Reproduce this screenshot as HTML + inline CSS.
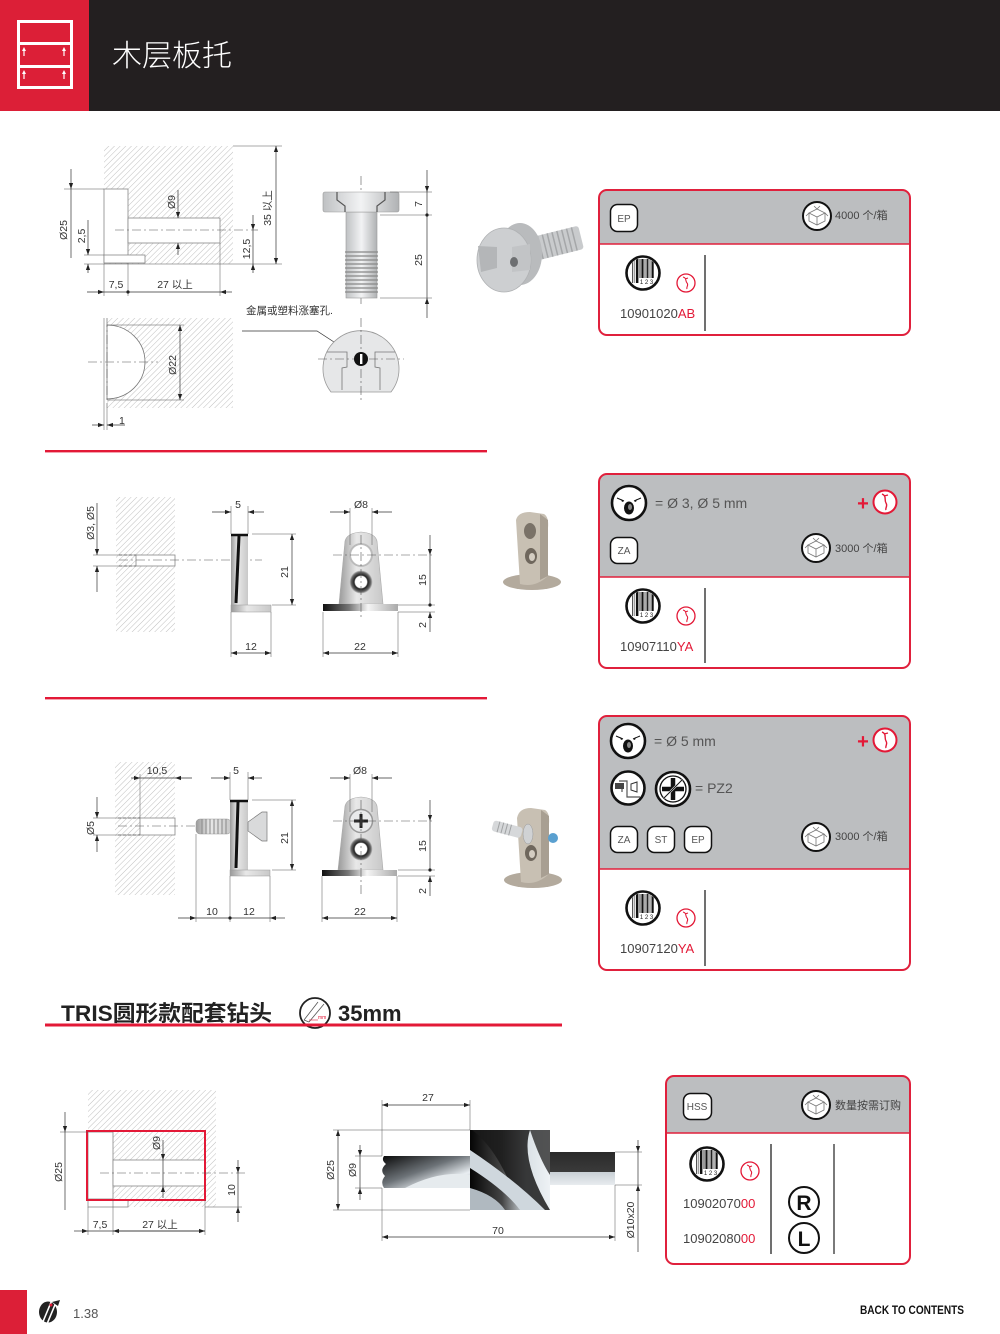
<!DOCTYPE html>
<html><head><meta charset="utf-8">
<style>
html,body{margin:0;padding:0;background:#fff;}
svg{display:block;}
text{font-family:"Liberation Sans","Noto Sans CJK SC",sans-serif;}
.d{font-size:10.5px;fill:#333;}
.dl{stroke:#333;stroke-width:0.7;fill:none;}
.ex{stroke:#555;stroke-width:0.5;fill:none;}
.cl{stroke:#555;stroke-width:0.6;stroke-dasharray:9 3 2 3;fill:none;}
.ed{stroke:#888;stroke-width:0.8;}
</style></head><body>
<svg width="1000" height="1334" viewBox="0 0 1000 1334" xmlns="http://www.w3.org/2000/svg">
<defs>
<pattern id="h" patternUnits="userSpaceOnUse" width="4" height="4" patternTransform="rotate(45)">
<line x1="0" y1="0" x2="0" y2="4" stroke="#b0b0b0" stroke-width="0.8"/>
</pattern>
<marker id="a" viewBox="0 0 10 10" refX="10" refY="5" markerWidth="6" markerHeight="6" orient="auto-start-reverse" markerUnits="userSpaceOnUse"><path d="M0,1.5 L10,5 L0,8.5z" fill="#222"/></marker>
<linearGradient id="gm" x1="0" y1="0" x2="1" y2="0"><stop offset="0" stop-color="#bfc1c3"/><stop offset="0.5" stop-color="#f2f3f4"/><stop offset="1" stop-color="#b0b2b4"/></linearGradient>
<linearGradient id="gb" x1="0" y1="0" x2="1" y2="0"><stop offset="0" stop-color="#111"/><stop offset="0.35" stop-color="#777"/><stop offset="0.6" stop-color="#f5f5f5"/><stop offset="1" stop-color="#aaa"/></linearGradient>
<linearGradient id="gp" x1="0" y1="0" x2="1" y2="0"><stop offset="0" stop-color="#9a9a9a"/><stop offset="0.4" stop-color="#e8e8e8"/><stop offset="1" stop-color="#c8c8c8"/></linearGradient>
<linearGradient id="gd1" x1="0" y1="0" x2="1" y2="1"><stop offset="0" stop-color="#0a0a0a"/><stop offset="0.45" stop-color="#6d7378"/><stop offset="0.75" stop-color="#e9eef2"/><stop offset="1" stop-color="#9aa3aa"/></linearGradient>
<linearGradient id="gd2" x1="0" y1="0" x2="1" y2="0"><stop offset="0" stop-color="#050505"/><stop offset="0.4" stop-color="#444"/><stop offset="0.7" stop-color="#d9e0e5"/><stop offset="1" stop-color="#eef2f5"/></linearGradient>
<linearGradient id="gsh" x1="0" y1="0" x2="0" y2="1"><stop offset="0" stop-color="#2a2a2a"/><stop offset="0.6" stop-color="#3a3a3a"/><stop offset="0.61" stop-color="#c9d0d5"/><stop offset="1" stop-color="#e8ecef"/></linearGradient>
<radialGradient id="gr" cx="0.5" cy="0.5" r="0.5"><stop offset="0.5" stop-color="#fff"/><stop offset="0.6" stop-color="#222"/><stop offset="0.85" stop-color="#666"/><stop offset="1" stop-color="#ccc"/></radialGradient>
<clipPath id="bcc"><circle r="15"/></clipPath>
<g id="bc">
<circle r="16.5" fill="#fff" stroke="#111" stroke-width="2.6"/>
<g clip-path="url(#bcc)">
<rect x="-11" y="-14" width="1.2" height="24" fill="#555"/>
<rect x="-8.8" y="-14" width="1" height="24" fill="#888"/>
<rect x="-7" y="-14" width="2.4" height="24" fill="#111"/>
<rect x="-3.5" y="-14" width="1" height="19" fill="#333"/>
<rect x="-1.6" y="-14" width="2.2" height="19" fill="#111"/>
<rect x="1.5" y="-14" width="1" height="19" fill="#555"/>
<rect x="3.5" y="-14" width="2" height="19" fill="#222"/>
<rect x="6.5" y="-14" width="1" height="19" fill="#666"/>
<rect x="8.5" y="-14" width="2.2" height="19" fill="#111"/>
</g>
<text x="3.5" y="11" font-size="6" text-anchor="middle" fill="#222">1 2 3</text>
</g>
<g id="rf">
<circle r="9" fill="#fff" stroke="#e31937" stroke-width="1.3"/>
<path d="M-3,-6 C1,-5 -1,-2 1,0 C3,2 0,4 1,6 M-1,-4 L2,-5" stroke="#e31937" stroke-width="1.1" fill="none"/>
</g>
<g id="bx">
<circle r="14" fill="#fff" stroke="#111" stroke-width="2"/>
<path d="M-8,-3 L0,-7 L8,-3 L0,1 Z M-8,-3 L-8,5 L0,9 L8,5 L8,-3 M0,1 L0,9 M-8,-3 L-11,0 M8,-3 L11,0 M0,-7 L-3,-10 M0,-7 L3,-10" stroke="#777" stroke-width="0.8" fill="none"/>
</g>
<g id="ho">
<circle r="17" fill="#fff" stroke="#111" stroke-width="2.6"/>
<ellipse cx="0" cy="5" rx="5" ry="6.5" fill="#111"/>
<ellipse cx="1" cy="4" rx="2" ry="3" fill="#888"/>
<path d="M-12,-5 L-5,-2 M12,-5 L5,-2" stroke="#111" stroke-width="1"/>
<path d="M-5,-2 L-8,-4 L-7,-1z M5,-2 L8,-4 L7,-1z" fill="#111"/>
</g>
<g id="rp">
<circle r="11.5" fill="#fff" stroke="#e31937" stroke-width="2"/>
<path d="M-3,-8 C2,-6 -1,-2 1,1 C3,4 0,6 1,8 M-1,-6 L3,-7" stroke="#e31937" stroke-width="1.4" fill="none"/>
</g>
</defs>

<!-- HEADER -->
<rect x="0" y="0" width="1000" height="111" fill="#231f20"/>
<rect x="0" y="0" width="89" height="111" fill="#dc1f37"/>
<rect x="18.5" y="21.5" width="53" height="66" fill="none" stroke="#fff" stroke-width="3"/>
<line x1="18" y1="43.5" x2="72" y2="43.5" stroke="#fff" stroke-width="3"/>
<line x1="18" y1="66.5" x2="72" y2="66.5" stroke="#fff" stroke-width="3"/>
<g fill="#fff">
<path d="M24,47 L22,51 L23.4,51 L23.4,56 L24.6,56 L24.6,51 L26,51z"/>
<path d="M64,47 L62,51 L63.4,51 L63.4,56 L64.6,56 L64.6,51 L66,51z"/>
<path d="M24,70 L22,74 L23.4,74 L23.4,79 L24.6,79 L24.6,74 L26,74z"/>
<path d="M64,70 L62,74 L63.4,74 L63.4,79 L64.6,79 L64.6,74 L66,74z"/>
</g>
<text x="112" y="66" font-size="30" fill="#fff" style="font-family:'Liberation Sans','Noto Sans CJK SC',sans-serif;font-weight:300">木层板托</text>

<!-- SECTION 1 DRAWINGS -->
<rect x="104" y="146" width="129" height="118" fill="url(#h)"/>
<rect x="104" y="189" width="24" height="74" fill="#fff" class="ed"/>
<rect x="128" y="218" width="92" height="25" fill="#fff" class="ed"/>
<rect x="104" y="255" width="41" height="8" fill="#fff" class="ed"/>
<line x1="115" y1="230" x2="258" y2="230" class="cl"/>
<line x1="64" y1="189" x2="104" y2="189" class="ex"/>
<line x1="84" y1="255" x2="104" y2="255" class="ex"/>
<line x1="84" y1="264" x2="282" y2="264" class="ex"/>
<line x1="233" y1="146" x2="282" y2="146" class="ex"/>
<line x1="71" y1="169" x2="71" y2="189" class="dl" marker-end="url(#a)"/>
<line x1="71" y1="189" x2="71" y2="258" class="dl"/>
<text class="d" transform="translate(67,230) rotate(-90)" text-anchor="middle">Ø25</text>
<line x1="88" y1="220" x2="88" y2="255" class="dl" marker-end="url(#a)"/>
<line x1="88" y1="273" x2="88" y2="264" class="dl" marker-end="url(#a)"/>
<text class="d" transform="translate(85,236) rotate(-90)" text-anchor="middle">2,5</text>
<line x1="178" y1="190" x2="178" y2="218" class="dl" marker-end="url(#a)"/>
<line x1="178" y1="255" x2="178" y2="243" class="dl" marker-end="url(#a)"/>
<text class="d" transform="translate(175,202) rotate(-90)" text-anchor="middle">Ø9</text>
<line x1="253" y1="215" x2="253" y2="230" class="dl" marker-end="url(#a)"/>
<line x1="253" y1="273" x2="253" y2="264" class="dl" marker-end="url(#a)"/>
<line x1="253" y1="230" x2="253" y2="264" class="dl"/>
<text class="d" transform="translate(250,249) rotate(-90)" text-anchor="middle">12,5</text>
<line x1="276" y1="146" x2="276" y2="264" class="dl" marker-start="url(#a)" marker-end="url(#a)"/>
<text class="d" transform="translate(271,208) rotate(-90)" text-anchor="middle">35 以上</text>
<line x1="104" y1="264" x2="104" y2="296" class="ex"/>
<line x1="128" y1="263" x2="128" y2="296" class="ex"/>
<line x1="220" y1="243" x2="220" y2="296" class="ex"/>
<line x1="87" y1="292" x2="104" y2="292" class="dl" marker-end="url(#a)"/>
<line x1="104" y1="292" x2="220" y2="292" class="dl"/>
<line x1="232" y1="292" x2="220" y2="292" class="dl" marker-end="url(#a)"/>
<circle cx="128" cy="292" r="1.6" fill="#222"/>
<text class="d" x="116" y="288" text-anchor="middle">7,5</text>
<text class="d" x="175" y="288" text-anchor="middle">27 以上</text>

<!-- screw side -->
<line x1="361" y1="176" x2="361" y2="306" class="cl"/>
<rect x="346" y="212" width="31" height="86" fill="url(#gm)" stroke="#999" stroke-width="0.6"/>
<g stroke="#888" stroke-width="1.2">
<line x1="345" y1="252" x2="378" y2="252"/><line x1="345" y1="256" x2="378" y2="256"/><line x1="345" y1="260" x2="378" y2="260"/><line x1="345" y1="264" x2="378" y2="264"/><line x1="345" y1="268" x2="378" y2="268"/><line x1="345" y1="272" x2="378" y2="272"/><line x1="345" y1="276" x2="378" y2="276"/><line x1="345" y1="280" x2="378" y2="280"/><line x1="345" y1="284" x2="378" y2="284"/><line x1="345" y1="288" x2="378" y2="288"/><line x1="345" y1="292" x2="378" y2="292"/>
</g>
<rect x="323" y="192" width="76" height="20" rx="2" fill="url(#gm)" stroke="#999" stroke-width="0.6"/>
<path d="M337,192 L337,200 L345,206 L345,212 M385,192 L385,200 L377,206 L377,212" stroke="#555" stroke-width="1.2" fill="none"/>
<line x1="390" y1="192" x2="432" y2="192" class="ex"/>
<line x1="380" y1="215" x2="432" y2="215" class="ex"/>
<line x1="380" y1="298" x2="432" y2="298" class="ex"/>
<line x1="427" y1="170" x2="427" y2="192" class="dl" marker-end="url(#a)"/>
<line x1="427" y1="192" x2="427" y2="298" class="dl"/>
<line x1="427" y1="318" x2="427" y2="298" class="dl" marker-end="url(#a)"/>
<circle cx="427" cy="215" r="1.6" fill="#222"/>
<text class="d" transform="translate(422,204) rotate(-90)" text-anchor="middle">7</text>
<text class="d" transform="translate(422,260) rotate(-90)" text-anchor="middle">25</text>

<text x="246" y="314" font-size="10.5" fill="#333">金属或塑料涨塞孔.</text>
<polyline points="242,331 317,331 354,355" class="dl" marker-end="url(#a)"/>
<!-- cam front -->
<path d="M331,392 A38,38 0 1 1 391,392 Z" fill="#e6e7e8" stroke="#999" stroke-width="0.8"/>
<path d="M327,352 L347,352 L347,367 L342,368 L342,390 M395,352 L375,352 L375,367 L380,368 L380,390" stroke="#777" stroke-width="0.8" fill="none"/>
<line x1="318" y1="359" x2="404" y2="359" class="cl"/>
<line x1="361" y1="318" x2="361" y2="402" class="cl"/>
<circle cx="361" cy="359" r="7" fill="#111"/>
<rect x="360" y="354" width="2.4" height="10" fill="#fff"/>

<!-- lower-left -->
<rect x="104" y="318" width="129" height="90" fill="url(#h)"/>
<rect x="104" y="318" width="3" height="90" fill="#fff"/>
<path d="M107,325 A38,37 0 0 1 107,399 Z" fill="#fff" stroke="#777" stroke-width="0.8"/>
<line x1="107" y1="318" x2="107" y2="408" class="cl"/>
<line x1="104" y1="318" x2="104" y2="430" class="ex"/>
<line x1="107" y1="408" x2="107" y2="430" class="ex"/>
<line x1="107" y1="325" x2="184" y2="325" class="ex"/>
<line x1="107" y1="400" x2="184" y2="400" class="ex"/>
<line x1="180" y1="325" x2="180" y2="400" class="dl" marker-start="url(#a)" marker-end="url(#a)"/>
<text class="d" transform="translate(176,365) rotate(-90)" text-anchor="middle">Ø22</text>
<line x1="88" y1="362" x2="158" y2="362" class="cl"/>
<line x1="92" y1="425" x2="104" y2="425" class="dl" marker-end="url(#a)"/>
<line x1="125" y1="425" x2="107" y2="425" class="dl" marker-end="url(#a)"/>
<text class="d" x="119" y="424">1</text>

<!-- product photo 1 -->
<g transform="rotate(-14 550 245)">
<rect x="522" y="233" width="60" height="24" rx="3" fill="#c9cbcd"/>
<g stroke="#a5a7a9" stroke-width="1.5"><line x1="540" y1="233" x2="540" y2="257"/><line x1="545" y1="233" x2="545" y2="257"/><line x1="550" y1="233" x2="550" y2="257"/><line x1="555" y1="233" x2="555" y2="257"/><line x1="560" y1="233" x2="560" y2="257"/><line x1="565" y1="233" x2="565" y2="257"/><line x1="570" y1="233" x2="570" y2="257"/><line x1="575" y1="233" x2="575" y2="257"/></g>
</g>
<ellipse cx="520" cy="254" rx="22" ry="31" fill="#b9bbbd"/>
<ellipse cx="504" cy="260" rx="27" ry="32" fill="#cdcfd1" stroke="#b0b2b4" stroke-width="0.8"/>
<path d="M478,246 L497,247 L497,268 L481,272" fill="#b4b6b8"/>
<path d="M512,247 L530,244 L530,270 L512,272z" fill="#c2c4c6"/>
<ellipse cx="514" cy="262" rx="4" ry="5" fill="#6d6f71"/>

<rect x="45" y="450" width="442" height="2.4" fill="#e31937"/>

<!-- SECTION 2 -->
<rect x="116" y="497" width="59" height="135" fill="url(#h)"/>
<rect x="136" y="555" width="39" height="11" fill="#fff" class="ed"/>
<path d="M119,555 L136,555 M119,566 L136,566" stroke="#666" stroke-width="0.7" stroke-dasharray="3 2"/>
<line x1="119" y1="560" x2="262" y2="560" class="cl"/>
<line x1="93" y1="555" x2="136" y2="555" class="ex"/>
<line x1="93" y1="566" x2="136" y2="566" class="ex"/>
<line x1="97" y1="503" x2="97" y2="555" class="dl" marker-end="url(#a)"/>
<line x1="97" y1="592" x2="97" y2="566" class="dl" marker-end="url(#a)"/>
<text class="d" transform="translate(94,523) rotate(-90)" text-anchor="middle">Ø3, Ø5</text>

<rect x="231" y="534" width="17" height="71" fill="url(#gp)"/>
<line x1="231" y1="535" x2="248" y2="535" stroke="#111" stroke-width="2.5"/>
<line x1="239" y1="536" x2="236" y2="603" stroke="#111" stroke-width="3"/>
<rect x="231" y="605" width="40" height="7" fill="url(#gp)" stroke="#999" stroke-width="0.5"/>
<line x1="231" y1="506" x2="231" y2="534" class="ex"/>
<line x1="248" y1="506" x2="248" y2="534" class="ex"/>
<line x1="212" y1="512" x2="231" y2="512" class="dl" marker-end="url(#a)"/>
<line x1="264" y1="512" x2="248" y2="512" class="dl" marker-end="url(#a)"/>
<text class="d" x="238" y="508" text-anchor="middle">5</text>
<line x1="252" y1="534" x2="296" y2="534" class="ex"/>
<line x1="272" y1="605" x2="296" y2="605" class="ex"/>
<line x1="292" y1="534" x2="292" y2="605" class="dl" marker-start="url(#a)" marker-end="url(#a)"/>
<text class="d" transform="translate(288,572) rotate(-90)" text-anchor="middle">21</text>
<line x1="231" y1="612" x2="231" y2="657" class="ex"/>
<line x1="271" y1="612" x2="271" y2="657" class="ex"/>
<line x1="231" y1="653" x2="271" y2="653" class="dl" marker-start="url(#a)" marker-end="url(#a)"/>
<text class="d" x="251" y="650" text-anchor="middle">12</text>

<path d="M339,604 L345,541 Q347,533 361,532 Q375,533 377,541 L383,604 Z" fill="url(#gp)" stroke="#aaa" stroke-width="0.6"/>
<circle cx="361" cy="555" r="11" fill="#fff" stroke="#bbb" stroke-width="2"/>
<circle cx="361" cy="582" r="11.5" fill="url(#gr)"/>
<rect x="323" y="604" width="75" height="7" fill="url(#gb)"/>
<line x1="361" y1="535" x2="361" y2="620" class="cl"/>
<line x1="333" y1="555" x2="435" y2="555" class="cl"/>
<line x1="350" y1="508" x2="350" y2="545" class="ex"/>
<line x1="372" y1="508" x2="372" y2="545" class="ex"/>
<line x1="330" y1="512" x2="350" y2="512" class="dl" marker-end="url(#a)"/>
<line x1="392" y1="512" x2="372" y2="512" class="dl" marker-end="url(#a)"/>
<text class="d" x="361" y="508" text-anchor="middle">Ø8</text>
<line x1="398" y1="605" x2="435" y2="605" class="ex"/>
<line x1="398" y1="612" x2="435" y2="612" class="ex"/>
<line x1="430" y1="535" x2="430" y2="555" class="dl" marker-end="url(#a)"/>
<line x1="430" y1="555" x2="430" y2="605" class="dl"/>
<line x1="430" y1="632" x2="430" y2="612" class="dl" marker-end="url(#a)"/>
<circle cx="430" cy="605" r="1.6" fill="#222"/>
<text class="d" transform="translate(426,580) rotate(-90)" text-anchor="middle">15</text>
<text class="d" transform="translate(426,625) rotate(-90)" text-anchor="middle">2</text>
<line x1="323" y1="612" x2="323" y2="657" class="ex"/>
<line x1="398" y1="612" x2="398" y2="657" class="ex"/>
<line x1="323" y1="653" x2="398" y2="653" class="dl" marker-start="url(#a)" marker-end="url(#a)"/>
<text class="d" x="360" y="650" text-anchor="middle">22</text>

<!-- product photo 2 -->
<ellipse cx="532" cy="582" rx="29" ry="8" fill="#b3aa9d"/>
<path d="M516,520 Q518,512 530,512 L544,514 Q549,517 548,528 L548,576 Q535,588 520,584 Z" fill="#c8c0b3"/>
<path d="M540,514 L548,520 L548,576 L540,580z" fill="#a89f92"/>
<ellipse cx="530" cy="531" rx="6" ry="8" fill="#7a7268"/>
<ellipse cx="531" cy="556" rx="6" ry="8" fill="#6f675d"/>
<ellipse cx="532" cy="557" rx="3" ry="4" fill="#d4cdc2"/>

<rect x="45" y="697" width="442" height="2.4" fill="#e31937"/>

<!-- SECTION 3 -->
<rect x="115" y="762" width="60" height="133" fill="url(#h)"/>
<rect x="140" y="818" width="35" height="17" fill="#fff" class="ed"/>
<path d="M118,818 L140,818 M118,835 L140,835" stroke="#666" stroke-width="0.7" stroke-dasharray="3 2"/>
<line x1="118" y1="826" x2="262" y2="826" class="cl"/>
<line x1="140" y1="774" x2="140" y2="818" class="ex"/>
<line x1="131" y1="778" x2="140" y2="778" class="dl" marker-end="url(#a)"/>
<line x1="192" y1="778" x2="175" y2="778" class="dl" marker-end="url(#a)"/>
<line x1="140" y1="778" x2="175" y2="778" class="dl"/>
<text class="d" x="157" y="774" text-anchor="middle">10,5</text>
<line x1="93" y1="818" x2="140" y2="818" class="ex"/>
<line x1="93" y1="835" x2="140" y2="835" class="ex"/>
<line x1="97" y1="797" x2="97" y2="818" class="dl" marker-end="url(#a)"/>
<line x1="97" y1="852" x2="97" y2="835" class="dl" marker-end="url(#a)"/>
<text class="d" transform="translate(94,828) rotate(-90)" text-anchor="middle">Ø5</text>

<rect x="196" y="819" width="35" height="15" rx="4" fill="url(#gp)" stroke="#999" stroke-width="0.5"/>
<g stroke="#888" stroke-width="1"><line x1="202" y1="819" x2="202" y2="834"/><line x1="206" y1="819" x2="206" y2="834"/><line x1="210" y1="819" x2="210" y2="834"/><line x1="214" y1="819" x2="214" y2="834"/><line x1="218" y1="819" x2="218" y2="834"/><line x1="222" y1="819" x2="222" y2="834"/><line x1="226" y1="819" x2="226" y2="834"/></g>
<rect x="230" y="800" width="18" height="70" fill="url(#gp)"/>
<line x1="230" y1="801" x2="248" y2="801" stroke="#111" stroke-width="2.5"/>
<line x1="238" y1="802" x2="236" y2="868" stroke="#111" stroke-width="3"/>
<path d="M248,822 L262,812 L267,812 L267,841 L262,841 L248,831 Z" fill="#d9dadb" stroke="#777" stroke-width="0.7"/>
<rect x="230" y="870" width="40" height="6" fill="url(#gp)" stroke="#999" stroke-width="0.5"/>
<line x1="230" y1="772" x2="230" y2="800" class="ex"/>
<line x1="248" y1="772" x2="248" y2="800" class="ex"/>
<line x1="211" y1="778" x2="230" y2="778" class="dl" marker-end="url(#a)"/>
<line x1="262" y1="778" x2="248" y2="778" class="dl" marker-end="url(#a)"/>
<text class="d" x="236" y="774" text-anchor="middle">5</text>
<line x1="252" y1="800" x2="296" y2="800" class="ex"/>
<line x1="272" y1="870" x2="296" y2="870" class="ex"/>
<line x1="292" y1="800" x2="292" y2="870" class="dl" marker-start="url(#a)" marker-end="url(#a)"/>
<text class="d" transform="translate(288,838) rotate(-90)" text-anchor="middle">21</text>
<line x1="196" y1="834" x2="196" y2="922" class="ex"/>
<line x1="230" y1="876" x2="230" y2="922" class="ex"/>
<line x1="270" y1="876" x2="270" y2="922" class="ex"/>
<line x1="178" y1="918" x2="196" y2="918" class="dl" marker-end="url(#a)"/>
<line x1="196" y1="918" x2="270" y2="918" class="dl"/>
<line x1="285" y1="918" x2="270" y2="918" class="dl" marker-end="url(#a)"/>
<circle cx="230" cy="918" r="1.6" fill="#222"/>
<text class="d" x="212" y="915" text-anchor="middle">10</text>
<text class="d" x="249" y="915" text-anchor="middle">12</text>

<path d="M338,870 L345,806 Q347,798 361,797 Q375,798 377,806 L383,870 Z" fill="url(#gp)" stroke="#aaa" stroke-width="0.6"/>
<circle cx="361" cy="821" r="11.5" fill="#e9eaeb" stroke="#999" stroke-width="1.5"/>
<path d="M354,821 L368,821 M361,814 L361,828" stroke="#222" stroke-width="3"/>
<circle cx="361" cy="849" r="11.5" fill="url(#gr)"/>
<rect x="322" y="870" width="75" height="6" fill="url(#gb)"/>
<line x1="361" y1="800" x2="361" y2="895" class="cl"/>
<line x1="333" y1="821" x2="435" y2="821" class="cl"/>
<line x1="350" y1="774" x2="350" y2="812" class="ex"/>
<line x1="372" y1="774" x2="372" y2="812" class="ex"/>
<line x1="330" y1="778" x2="350" y2="778" class="dl" marker-end="url(#a)"/>
<line x1="392" y1="778" x2="372" y2="778" class="dl" marker-end="url(#a)"/>
<text class="d" x="360" y="774" text-anchor="middle">Ø8</text>
<line x1="398" y1="870" x2="435" y2="870" class="ex"/>
<line x1="398" y1="876" x2="435" y2="876" class="ex"/>
<line x1="430" y1="800" x2="430" y2="821" class="dl" marker-end="url(#a)"/>
<line x1="430" y1="821" x2="430" y2="870" class="dl"/>
<line x1="430" y1="896" x2="430" y2="876" class="dl" marker-end="url(#a)"/>
<circle cx="430" cy="870" r="1.6" fill="#222"/>
<text class="d" transform="translate(426,846) rotate(-90)" text-anchor="middle">15</text>
<text class="d" transform="translate(426,891) rotate(-90)" text-anchor="middle">2</text>
<line x1="322" y1="876" x2="322" y2="922" class="ex"/>
<line x1="397" y1="876" x2="397" y2="922" class="ex"/>
<line x1="322" y1="918" x2="397" y2="918" class="dl" marker-start="url(#a)" marker-end="url(#a)"/>
<text class="d" x="360" y="915" text-anchor="middle">22</text>

<!-- product photo 3 -->
<ellipse cx="533" cy="880" rx="29" ry="8" fill="#b3aa9d"/>
<path d="M517,818 Q519,808 531,808 L545,810 Q550,813 549,824 L549,874 Q536,886 521,882 Z" fill="#c8c0b3"/>
<path d="M541,810 L549,816 L549,874 L541,878z" fill="#a89f92"/>
<ellipse cx="531" cy="853" rx="6" ry="8" fill="#6f675d"/>
<ellipse cx="532" cy="854" rx="3" ry="4" fill="#d4cdc2"/>
<g transform="rotate(15 508 830)">
<rect x="492" y="824" width="30" height="11" rx="3" fill="#d6d8da"/>
<g stroke="#a0a2a4" stroke-width="1"><line x1="498" y1="824" x2="498" y2="835"/><line x1="502" y1="824" x2="502" y2="835"/><line x1="506" y1="824" x2="506" y2="835"/><line x1="510" y1="824" x2="510" y2="835"/></g>
</g>
<ellipse cx="528" cy="834" rx="5" ry="10" fill="#d0d2d4" stroke="#999" stroke-width="0.5"/>
<circle cx="553" cy="838" r="5" fill="#5aa0d0"/>

<!-- BOX 1 -->
<path d="M607,190 L902,190 Q910,190 910,198 L910,244 L599,244 L599,198 Q599,190 607,190 Z" fill="#bcbec0"/>
<rect x="599" y="190" width="311" height="145" rx="8" fill="none" stroke="#e0203c" stroke-width="2"/>
<line x1="599" y1="244" x2="910" y2="244" stroke="#e0203c" stroke-width="1.5"/>
<rect x="610.5" y="204.5" width="27" height="27" rx="7" fill="#fff" stroke="#111" stroke-width="1.5"/>
<text x="624" y="222" font-size="10" fill="#555" text-anchor="middle">EP</text>
<use href="#bx" x="817" y="216"/>
<text x="835" y="219" font-size="11" fill="#444">4000 个/箱</text>
<use href="#bc" x="643" y="273"/>
<use href="#rf" x="686" y="283"/>
<text x="620" y="318" font-size="13" fill="#444">10901020<tspan fill="#e31937">AB</tspan></text>
<line x1="705" y1="255" x2="705" y2="331" stroke="#222" stroke-width="1.3"/>

<!-- BOX 2 -->
<path d="M607,474 L902,474 Q910,474 910,482 L910,577 L599,577 L599,482 Q599,474 607,474 Z" fill="#bcbec0"/>
<rect x="599" y="474" width="311" height="194" rx="8" fill="none" stroke="#e0203c" stroke-width="2"/>
<line x1="599" y1="577" x2="910" y2="577" stroke="#e0203c" stroke-width="1.5"/>
<use href="#ho" x="629" y="503"/>
<text x="655" y="508" font-size="14" fill="#555">= Ø 3, Ø 5 mm</text>
<text x="863" y="510" font-size="20" font-weight="bold" fill="#e31937" text-anchor="middle">+</text>
<use href="#rp" x="885" y="502"/>
<rect x="610.5" y="537.5" width="27" height="26" rx="7" fill="#fff" stroke="#111" stroke-width="1.5"/>
<text x="624" y="554" font-size="10" fill="#555" text-anchor="middle">ZA</text>
<use href="#bx" x="816" y="548"/>
<text x="835" y="552" font-size="11" fill="#444">3000 个/箱</text>
<use href="#bc" x="643" y="606"/>
<use href="#rf" x="686" y="616"/>
<text x="620" y="651" font-size="13" fill="#444">10907110<tspan fill="#e31937">YA</tspan></text>
<line x1="705" y1="588" x2="705" y2="663" stroke="#222" stroke-width="1.3"/>

<!-- BOX 3 -->
<path d="M607,716 L902,716 Q910,716 910,724 L910,869 L599,869 L599,724 Q599,716 607,716 Z" fill="#bcbec0"/>
<rect x="599" y="716" width="311" height="254" rx="8" fill="none" stroke="#e0203c" stroke-width="2"/>
<line x1="599" y1="869" x2="910" y2="869" stroke="#e0203c" stroke-width="1.5"/>
<use href="#ho" x="628" y="741"/>
<text x="654" y="746" font-size="14" fill="#555">= Ø 5 mm</text>
<text x="863" y="748" font-size="20" font-weight="bold" fill="#e31937" text-anchor="middle">+</text>
<use href="#rp" x="885" y="740"/>
<circle cx="628" cy="788" r="16.5" fill="#fff" stroke="#111" stroke-width="2.6"/>
<path d="M619,781 L627,781 L627,797 L640,797 M622,784 L622,792" stroke="#555" stroke-width="1.2" fill="none"/>
<rect x="615" y="783" width="9" height="6" fill="#444"/>
<path d="M631,784 L637,782 L637,792 L631,790z" fill="none" stroke="#333" stroke-width="1"/>
<circle cx="673" cy="789" r="17" fill="#fff" stroke="#111" stroke-width="2.6"/>
<circle cx="673" cy="789" r="13" fill="none" stroke="#111" stroke-width="1.3"/>
<path d="M662,789 L684,789 M673,778 L673,800" stroke="#111" stroke-width="4.5"/>
<line x1="664" y1="798" x2="682" y2="780" stroke="#fff" stroke-width="2"/>
<line x1="664" y1="798" x2="682" y2="780" stroke="#111" stroke-width="1"/>
<text x="695" y="793" font-size="14" fill="#555">= PZ2</text>
<rect x="610.5" y="826.5" width="27" height="26" rx="7" fill="#fff" stroke="#111" stroke-width="1.5"/>
<text x="624" y="843" font-size="10" fill="#555" text-anchor="middle">ZA</text>
<rect x="647.5" y="826.5" width="27" height="26" rx="7" fill="#fff" stroke="#111" stroke-width="1.5"/>
<text x="661" y="843" font-size="10" fill="#555" text-anchor="middle">ST</text>
<rect x="684.5" y="826.5" width="27" height="26" rx="7" fill="#fff" stroke="#111" stroke-width="1.5"/>
<text x="698" y="843" font-size="10" fill="#555" text-anchor="middle">EP</text>
<use href="#bx" x="816" y="837"/>
<text x="835" y="840" font-size="11" fill="#444">3000 个/箱</text>
<use href="#bc" x="643" y="908"/>
<use href="#rf" x="686" y="918"/>
<text x="620" y="953" font-size="13" fill="#444">10907120<tspan fill="#e31937">YA</tspan></text>
<line x1="705" y1="890" x2="705" y2="966" stroke="#222" stroke-width="1.3"/>

<!-- DRILL HEADER -->
<text x="61" y="1021" font-size="22" font-weight="bold" fill="#222" textLength="211" lengthAdjust="spacingAndGlyphs">TRIS圆形款配套钻头</text>
<circle cx="315" cy="1013" r="15" fill="#fff" stroke="#222" stroke-width="1.8"/>
<path d="M304,1020 L318,1002 M309,1022 L324,1004 M304,1020 L309,1022" stroke="#555" stroke-width="0.8" fill="none"/>
<text x="318" y="1019" font-size="5" fill="#e31937">mm</text>
<line x1="309" y1="1020" x2="318" y2="1020" stroke="#e31937" stroke-width="0.6"/>
<text x="338" y="1021" font-size="22" font-weight="bold" fill="#222">35mm</text>
<rect x="45" y="1023.5" width="517" height="3" fill="#e31937"/>

<!-- DRILL LEFT -->
<rect x="88" y="1090" width="128" height="117" fill="url(#h)"/>
<rect x="88" y="1132" width="25" height="67" fill="#fff" class="ed"/>
<rect x="113" y="1160" width="92" height="26" fill="#fff" class="ed"/>
<rect x="88" y="1200" width="40" height="7" fill="#fff" class="ed"/>
<rect x="87" y="1131" width="118" height="69" fill="none" stroke="#e31937" stroke-width="2"/>
<line x1="100" y1="1173" x2="245" y2="1173" class="cl"/>
<line x1="60" y1="1132" x2="88" y2="1132" class="ex"/>
<line x1="65" y1="1112" x2="65" y2="1132" class="dl" marker-end="url(#a)"/>
<line x1="65" y1="1132" x2="65" y2="1210" class="dl"/>
<text class="d" transform="translate(62,1172) rotate(-90)" text-anchor="middle">Ø25</text>
<line x1="163" y1="1140" x2="163" y2="1160" class="dl" marker-end="url(#a)"/>
<line x1="163" y1="1160" x2="163" y2="1186" class="dl"/>
<line x1="163" y1="1198" x2="163" y2="1186" class="dl" marker-end="url(#a)"/>
<text class="d" transform="translate(160,1143) rotate(-90)" text-anchor="middle">Ø9</text>
<line x1="205" y1="1207" x2="242" y2="1207" class="ex"/>
<line x1="238" y1="1160" x2="238" y2="1173" class="dl" marker-end="url(#a)"/>
<line x1="238" y1="1173" x2="238" y2="1207" class="dl"/>
<line x1="238" y1="1222" x2="238" y2="1207" class="dl" marker-end="url(#a)"/>
<text class="d" transform="translate(235,1190) rotate(-90)" text-anchor="middle">10</text>
<line x1="88" y1="1207" x2="88" y2="1235" class="ex"/>
<line x1="113" y1="1200" x2="113" y2="1235" class="ex"/>
<line x1="205" y1="1200" x2="205" y2="1235" class="ex"/>
<line x1="74" y1="1231" x2="88" y2="1231" class="dl" marker-end="url(#a)"/>
<line x1="88" y1="1231" x2="205" y2="1231" class="dl"/>
<line x1="113" y1="1231" x2="205" y2="1231" class="dl" marker-start="url(#a)" marker-end="url(#a)"/>
<text class="d" x="100" y="1228" text-anchor="middle">7,5</text>
<text class="d" x="160" y="1228" text-anchor="middle">27 以上</text>

<!-- DRILL -->
<path d="M384,1156 L470,1156 L470,1188 L384,1188 Q380,1182 385,1176 Q379,1170 386,1164 Q381,1160 384,1156 Z" fill="url(#gd1)"/>
<path d="M405,1188 Q440,1170 470,1175 L470,1188 Z" fill="#e6ebee"/>
<rect x="470" y="1130" width="80" height="80" fill="url(#gd2)"/>
<path d="M472,1130 Q500,1150 520,1210 L550,1210 Q520,1160 530,1130 Z" fill="#1a1a1a" opacity="0.85"/>
<path d="M470,1168 Q505,1190 520,1210 L545,1210 Q515,1180 470,1150 Z" fill="#cfd7dd"/>
<path d="M470,1188 Q495,1195 505,1210 L470,1210 Z" fill="#b0b9c0"/>
<path d="M530,1130 Q540,1160 550,1175 L550,1130 Z" fill="#2a2a2a" opacity="0.8"/>
<rect x="550" y="1152" width="65" height="33" fill="url(#gsh)"/>
<line x1="382" y1="1100" x2="382" y2="1156" class="ex"/>
<line x1="470" y1="1100" x2="470" y2="1130" class="ex"/>
<line x1="382" y1="1105" x2="470" y2="1105" class="dl" marker-start="url(#a)" marker-end="url(#a)"/>
<text class="d" x="428" y="1101" text-anchor="middle">27</text>
<line x1="333" y1="1130" x2="470" y2="1130" class="ex"/>
<line x1="333" y1="1210" x2="470" y2="1210" class="ex"/>
<line x1="338" y1="1130" x2="338" y2="1210" class="dl" marker-start="url(#a)" marker-end="url(#a)"/>
<text class="d" transform="translate(334,1170) rotate(-90)" text-anchor="middle">Ø25</text>
<line x1="355" y1="1156" x2="382" y2="1156" class="ex"/>
<line x1="355" y1="1188" x2="382" y2="1188" class="ex"/>
<line x1="360" y1="1145" x2="360" y2="1156" class="dl" marker-end="url(#a)"/>
<line x1="360" y1="1156" x2="360" y2="1188" class="dl"/>
<line x1="360" y1="1200" x2="360" y2="1188" class="dl" marker-end="url(#a)"/>
<text class="d" transform="translate(356,1170) rotate(-90)" text-anchor="middle">Ø9</text>
<line x1="615" y1="1152" x2="642" y2="1152" class="ex"/>
<line x1="615" y1="1185" x2="642" y2="1185" class="ex"/>
<line x1="638" y1="1140" x2="638" y2="1152" class="dl" marker-end="url(#a)"/>
<line x1="638" y1="1152" x2="638" y2="1185" class="dl"/>
<line x1="638" y1="1252" x2="638" y2="1185" class="dl" marker-end="url(#a)"/>
<text class="d" transform="translate(634,1220) rotate(-90)" text-anchor="middle">Ø10x20</text>
<line x1="382" y1="1188" x2="382" y2="1241" class="ex"/>
<line x1="615" y1="1185" x2="615" y2="1241" class="ex"/>
<line x1="382" y1="1237" x2="615" y2="1237" class="dl" marker-start="url(#a)" marker-end="url(#a)"/>
<text class="d" x="498" y="1234" text-anchor="middle">70</text>

<!-- BOX 4 -->
<path d="M674,1076 L902,1076 Q910,1076 910,1084 L910,1133 L666,1133 L666,1084 Q666,1076 674,1076 Z" fill="#bcbec0"/>
<rect x="666" y="1076" width="244" height="188" rx="8" fill="none" stroke="#e0203c" stroke-width="2"/>
<line x1="666" y1="1133" x2="910" y2="1133" stroke="#e0203c" stroke-width="1.5"/>
<rect x="683.5" y="1093.5" width="28" height="26" rx="7" fill="#fff" stroke="#111" stroke-width="1.5"/>
<text x="697" y="1110" font-size="10" fill="#555" text-anchor="middle">HSS</text>
<use href="#bx" x="816" y="1105"/>
<text x="835" y="1109" font-size="11" fill="#444">数量按需订购</text>
<use href="#bc" x="707" y="1164"/>
<use href="#rf" x="750" y="1171"/>
<text x="683" y="1208" font-size="13" fill="#444">10902070<tspan fill="#e31937">00</tspan></text>
<text x="683" y="1243" font-size="13" fill="#444">10902080<tspan fill="#e31937">00</tspan></text>
<line x1="771" y1="1144" x2="771" y2="1254" stroke="#222" stroke-width="1.3"/>
<line x1="834" y1="1144" x2="834" y2="1254" stroke="#333" stroke-width="1.3"/>
<circle cx="804" cy="1202" r="15" fill="#fff" stroke="#111" stroke-width="2"/>
<text x="804" y="1210" font-size="21" font-weight="bold" fill="#111" text-anchor="middle">R</text>
<circle cx="804" cy="1238" r="15" fill="#fff" stroke="#111" stroke-width="2"/>
<text x="804" y="1246" font-size="21" font-weight="bold" fill="#111" text-anchor="middle">L</text>

<!-- FOOTER -->
<rect x="0" y="1290" width="27" height="44" fill="#dc1f37"/>
<ellipse cx="48" cy="1312" rx="9" ry="10.5" fill="#222"/>
<path d="M42,1324 L52,1300 M47,1324 L57,1300" stroke="#fff" stroke-width="1.6"/>
<path d="M52,1302 L60,1300 L58,1306 Z" fill="#222"/>
<circle cx="51" cy="1305" r="1.5" fill="#e31937"/>
<text x="73" y="1318" font-size="13" fill="#555">1.38</text>
<text x="964" y="1314" font-size="12" font-weight="bold" fill="#111" text-anchor="end" textLength="104" lengthAdjust="spacingAndGlyphs">BACK TO CONTENTS</text>
</svg>
</body></html>
